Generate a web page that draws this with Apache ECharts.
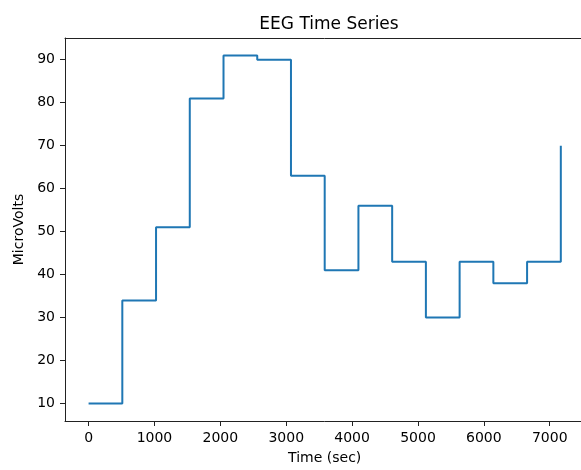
<!DOCTYPE html>
<html lang="en">
<head>
    <meta charset="UTF-8">
    <title>EEG Time Series</title>
    <script src="https://cdn.jsdelivr.net/npm/echarts@6/dist/echarts.min.js"></script>
    <style>
        html, body { margin: 0; padding: 0; background: #fff; overflow: hidden; }
    </style>
</head>
<body>
    <!-- plot runs slightly past the right edge of the window, like the original figure crop -->
    <div id="chart" style="width: 590px; height: 470px;"></div>

    <script>
        // sample times (sec) and readings (microvolts)
        var times = [0, 512, 1024, 1536, 2048, 2560, 3072, 3584, 4096, 4608, 5120, 5632, 6144, 6656, 7168];
        var microvolts = [10, 34, 51, 81, 91, 90, 63, 41, 56, 43, 30, 43, 38, 43, 70];
        var xTicks = [0, 1000, 2000, 3000, 4000, 5000, 6000, 7000];
        var yTicks = [10, 20, 30, 40, 50, 60, 70, 80, 90];

        var points = times.map(function (t, i) { return [t, microvolts[i]]; });

        var chart = echarts.init(document.getElementById('chart'));
        var font = 'DejaVu Sans';
        var ink = '#222';

        var options = {
            animation: false,
            title: {
                text: 'EEG Time Series',
                left: 324,
                top: 11,
                textAlign: 'center',
                textStyle: { fontFamily: font, fontSize: 17, fontWeight: 'normal', color: '#000' }
            },
            grid: {
                left: 65,
                top: 38,
                right: 5.6,
                bottom: 46
            },
            xAxis: [
                {
                    type: 'value',
                    min: -358,
                    max: 7526,
                    name: 'Time (sec)',
                    nameLocation: 'middle',
                    nameGap: 30,
                    nameTextStyle: { fontFamily: font, fontSize: 14, color: '#000' },
                    splitLine: { show: false },
                    axisLine: { onZero: false, lineStyle: { color: ink, width: 1 } },
                    axisTick: { show: true, inside: false, length: 5, lineStyle: { color: ink, width: 1 }, customValues: xTicks },
                    axisLabel: {
                        fontFamily: font, fontSize: 14, color: '#000', margin: 10,
                        customValues: xTicks,
                        formatter: function (v) { return String(v); }
                    }
                },
                {
                    // top spine only
                    type: 'value',
                    position: 'top',
                    min: -358,
                    max: 7526,
                    splitLine: { show: false },
                    axisLine: { onZero: false, lineStyle: { color: ink, width: 1 } },
                    axisTick: { show: false },
                    axisLabel: { show: false }
                }
            ],
            yAxis: {
                type: 'value',
                min: 5.95,
                max: 95.05,
                name: 'MicroVolts',
                nameLocation: 'middle',
                nameGap: 34,
                nameTextStyle: { fontFamily: font, fontSize: 14, color: '#000' },
                splitLine: { show: false },
                axisLine: { show: true, onZero: false, lineStyle: { color: ink, width: 1 } },
                axisTick: { show: true, inside: false, length: 5, lineStyle: { color: ink, width: 1 }, customValues: yTicks },
                axisLabel: { fontFamily: font, fontSize: 14, color: '#000', margin: 10, customValues: yTicks }
            },
            series: [
                {
                    type: 'line',
                    step: 'end',
                    data: points,
                    symbol: 'none',
                    lineStyle: { color: '#1f77b4', width: 2 }
                }
            ]
        };

        chart.setOption(options);
    </script>
</body>
</html>
